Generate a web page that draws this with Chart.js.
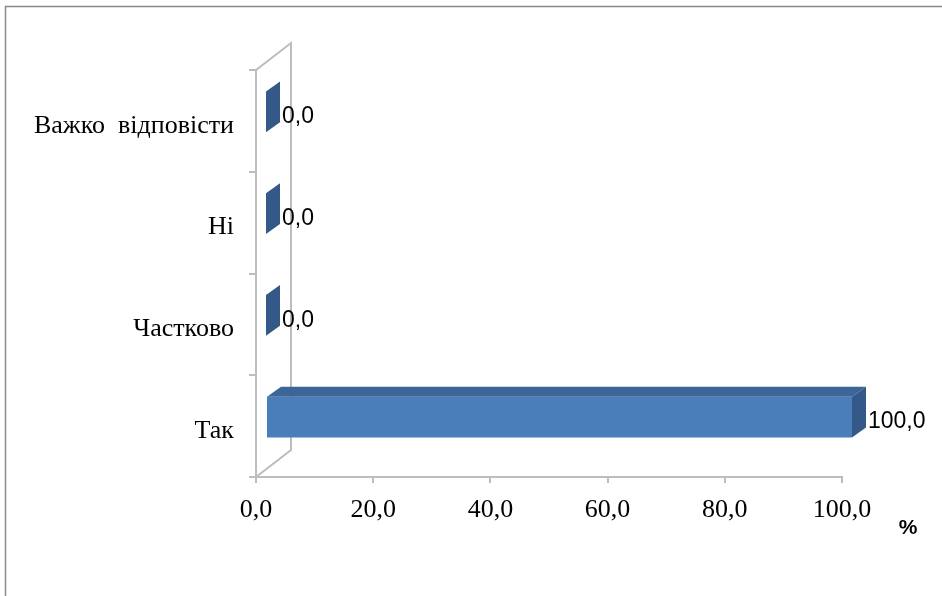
<!DOCTYPE html>
<html><head><meta charset="utf-8">
<script src="https://cdn.jsdelivr.net/npm/chart.js@4"></script>
<style>html,body{margin:0;padding:0;background:#fff;overflow:hidden}#wrap{width:942px;height:596px;position:relative}</style>
</head><body><div id="wrap"><canvas id="c" width="942" height="596"></canvas></div>
<script>
// Data
const categories = ['Важко  відповісти', 'Ні', 'Частково', 'Так'];
const values = [0.0, 0.0, 0.0, 100.0];
const xTickValues = [0, 20, 40, 60, 80, 100];
const axisUnit = '%';

const fmt = v => Number(v).toFixed(1).replace('.', ',');

const SHX = 10, SHY = -9;      // bar depth shift
const DX = 14, DY = 10;        // bar depth extrusion
const WDX = 35, WDY = 27;      // wall depth
const wallColor = '#bdbdbd';
const frontColor = '#4a7ebb';
const topColor = '#3c6697';
const sideColor = '#345888';

const threeD = {
  id: 'threeD',
  beforeDraw(chart) {
    const ctx = chart.ctx;
    ctx.save();
    ctx.fillStyle = '#fff';
    ctx.fillRect(0, 0, chart.width, chart.height);
    ctx.strokeStyle = '#8a8a8a';
    ctx.lineWidth = 1.5;
    ctx.strokeRect(5.5, 6.5, 2000, 2000);
    ctx.restore();
  },
  beforeDatasetsDraw(chart) {
    const ctx = chart.ctx, a = chart.chartArea;
    ctx.save();
    ctx.strokeStyle = wallColor;
    ctx.lineWidth = 2;
    ctx.beginPath();
    ctx.moveTo(a.left, a.top);
    ctx.lineTo(a.left + WDX, a.top - WDY);
    ctx.lineTo(a.left + WDX, a.bottom - WDY);
    ctx.lineTo(a.left, a.bottom);
    ctx.stroke();
    ctx.restore();
    // unit label
    ctx.save();
    ctx.fillStyle = '#000';
    ctx.font = 'bold 21px "Liberation Sans", Arial, sans-serif';
    ctx.textAlign = 'center';
    ctx.textBaseline = 'middle';
    ctx.fillText(axisUnit, 908, 528);
    ctx.restore();
    ctx.save();
    ctx.translate(SHX, SHY);
  },
  afterDatasetsDraw(chart) {
    const ctx = chart.ctx;
    const meta = chart.getDatasetMeta(0);
    meta.data.forEach((bar, i) => {
      const p = bar.getProps(['x', 'y', 'base', 'height'], true);
      const y0 = p.y - p.height / 2, y1 = p.y + p.height / 2;
      const x0 = Math.min(p.base, p.x), x1 = Math.max(p.base, p.x);
      if (x1 - x0 > 0.5) {
        ctx.fillStyle = topColor;
        ctx.beginPath();
        ctx.moveTo(x0, y0); ctx.lineTo(x1, y0);
        ctx.lineTo(x1 + DX, y0 - DY); ctx.lineTo(x0 + DX, y0 - DY);
        ctx.closePath(); ctx.fill();
      }
      ctx.fillStyle = sideColor;
      ctx.beginPath();
      ctx.moveTo(x1, y0); ctx.lineTo(x1 + DX, y0 - DY);
      ctx.lineTo(x1 + DX, y1 - DY); ctx.lineTo(x1, y1);
      ctx.closePath(); ctx.fill();
      ctx.fillStyle = '#000';
      ctx.font = '23px "Liberation Sans", Arial, sans-serif';
      ctx.textAlign = 'left';
      ctx.textBaseline = 'middle';
      ctx.fillText(fmt(values[i]), x1 + DX + 2, p.y + 5);
    });
    ctx.restore();
  }
};

new Chart(document.getElementById('c'), {
  type: 'bar',
  data: {
    labels: categories,
    datasets: [{
      data: values,
      backgroundColor: frontColor,
      borderWidth: 0,
      barPercentage: 0.4,
      categoryPercentage: 1,
      clip: false
    }]
  },
  options: {
    indexAxis: 'y',
    responsive: false,
    animation: false,
    devicePixelRatio: 1,
    layout: { padding: { left: 0, top: 70, right: 100, bottom: 0 } },
    plugins: { legend: { display: false }, tooltip: { enabled: false } },
    scales: {
      x: {
        min: 0, max: 100,
        afterBuildTicks(scale) { scale.ticks = xTickValues.map(v => ({ value: v })); },
        afterFit(scale) { scale.height = 119; },
        grid: { drawOnChartArea: false, drawTicks: true, tickLength: 6, color: wallColor, lineWidth: 2 },
        border: { color: wallColor, width: 2 },
        ticks: {
          padding: 12,
          color: '#000',
          font: { family: '"Liberation Serif", "Times New Roman", serif', size: 26 },
          callback: v => fmt(v),
          maxRotation: 0
        }
      },
      y: {
        afterFit(scale) { scale.width = 256; },
        grid: { drawOnChartArea: false, drawTicks: true, tickLength: 7, color: wallColor, lineWidth: 2, offset: true },
        border: { color: wallColor, width: 2 },
        ticks: {
          padding: 15,
          labelOffset: 5,
          color: '#000',
          font: { family: '"Liberation Serif", "Times New Roman", serif', size: 26 }
        }
      }
    }
  },
  plugins: [threeD]
});
</script>
</body></html>
